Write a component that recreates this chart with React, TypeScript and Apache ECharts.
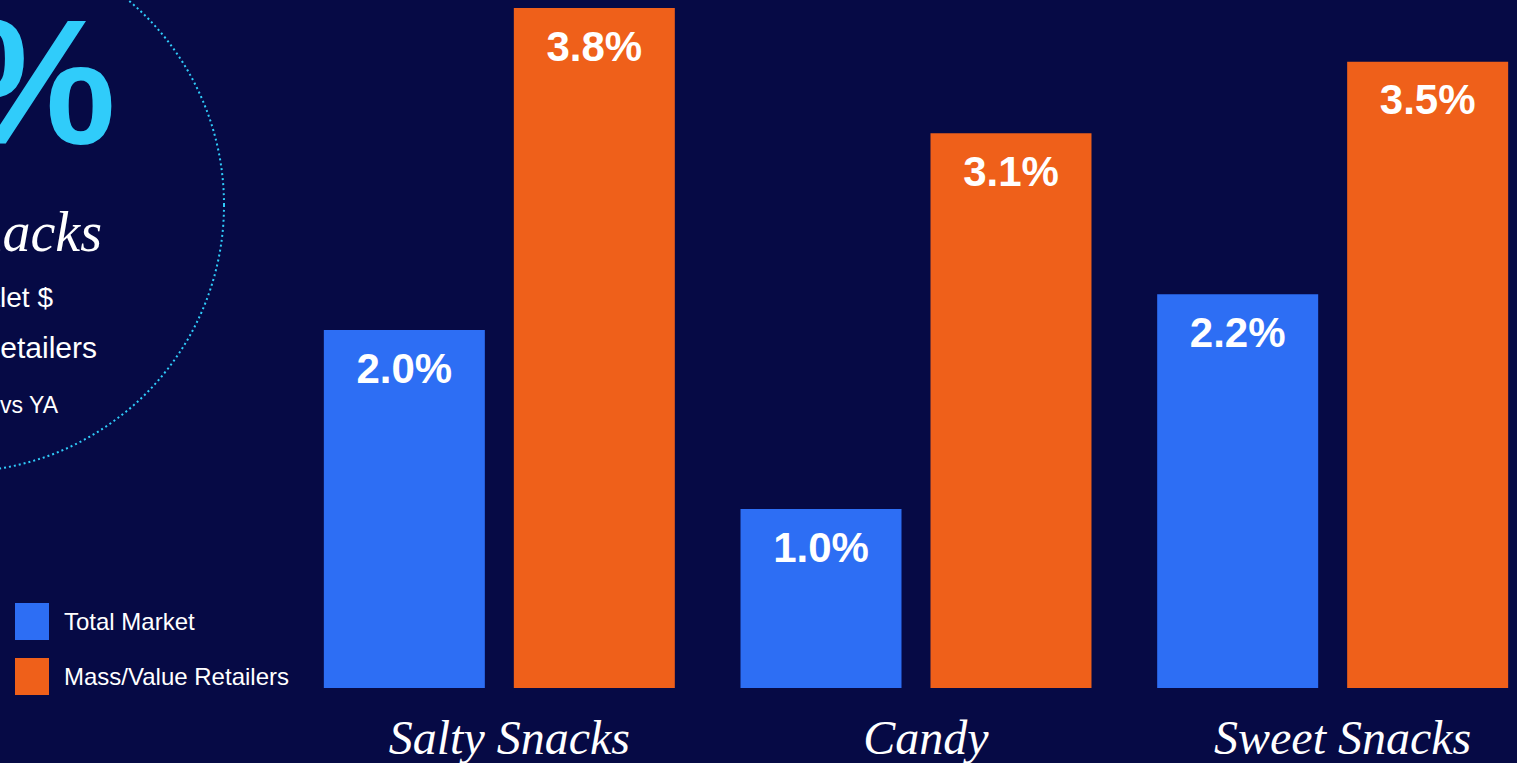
import React, { useEffect, useRef } from "react";
import * as echarts from "echarts";

const categories = ["Salty Snacks", "Candy", "Sweet Snacks"];
const totalMarket = [2.0, 1.0, 2.2];
const massValue = [3.8, 3.1, 3.5];
const seriesNames = ["Total Market", "Mass/Value Retailers"];

const BG = "#060A45";
const BLUE = "#2D6EF4";
const ORANGE = "#EF601A";
const CYAN = "#30CCFA";

export default function App() {
  const ref = useRef<HTMLDivElement>(null);
  useEffect(() => {
    if (!ref.current) return;
    const chart = echarts.init(ref.current, undefined, { renderer: "svg" });
    const labelCfg = {
      show: true,
      position: "insideTop",
      distance: 17,
      color: "#FFFFFF",
      fontFamily: "Liberation Sans, Arial, sans-serif",
      fontWeight: "bold",
      fontSize: 42,
      formatter: (p: any) => Number(p.value).toFixed(1) + "%",
    };
    chart.setOption({
      animation: false,
      backgroundColor: BG,
      grid: { left: 291, width: 1250, top: 8, bottom: 75, containLabel: false },
      legend: {
        orient: "vertical",
        left: 15,
        top: 603,
        padding: 0,
        itemWidth: 34,
        itemHeight: 37,
        itemGap: 18,
        icon: "rect",
        selectedMode: false,
        data: seriesNames,
        textStyle: {
          color: "#FFFFFF",
          fontSize: 24,
          fontFamily: "Liberation Sans, Arial, sans-serif",
          padding: [6, 0, 0, 10],
        },
      },
      xAxis: {
        type: "category",
        data: categories,
        axisLine: { show: false },
        axisTick: { show: false },
        axisLabel: {
          color: "#FFFFFF",
          fontFamily: "Liberation Serif, serif",
          fontStyle: "italic",
          fontSize: 48,
          margin: 25,
          padding: [0, 0, 0, 20],
          interval: 0,
        },
      },
      yAxis: {
        type: "value",
        min: 0,
        max: 3.8,
        show: false,
        splitLine: { show: false },
      },
      graphic: [
        {
          type: "circle",
          shape: { cx: -43, cy: 205, r: 267 },
          style: { fill: "none", stroke: CYAN, lineWidth: 2, lineDash: [2, 3] },
          silent: true,
        },
        {
          type: "text",
          x: 116,
          y: 82,
          style: {
            text: "%",
            fill: CYAN,
            font: "bold 178px 'Liberation Sans', Arial, sans-serif",
            textAlign: "right",
            textVerticalAlign: "middle",
          },
        },
        {
          type: "text",
          x: 102,
          y: 232,
          style: {
            text: "Snacks",
            fill: "#FFFFFF",
            font: "italic 56px 'Liberation Serif', serif",
            textAlign: "right",
            textVerticalAlign: "middle",
          },
        },
        {
          type: "text",
          x: 53,
          y: 297,
          style: {
            text: "Outlet $",
            fill: "#FFFFFF",
            font: "28px 'Liberation Sans', Arial, sans-serif",
            textAlign: "right",
            textVerticalAlign: "middle",
          },
        },
        {
          type: "text",
          x: 97,
          y: 347,
          style: {
            text: "Retailers",
            fill: "#FFFFFF",
            font: "30px 'Liberation Sans', Arial, sans-serif",
            textAlign: "right",
            textVerticalAlign: "middle",
          },
        },
        {
          type: "text",
          x: 58,
          y: 405,
          style: {
            text: "vs YA",
            fill: "#FFFFFF",
            font: "23px 'Liberation Sans', Arial, sans-serif",
            textAlign: "right",
            textVerticalAlign: "middle",
          },
        },
      ],
      series: [
        {
          name: seriesNames[0],
          type: "bar",
          data: totalMarket,
          barWidth: 161,
          barGap: "18%",
          itemStyle: { color: BLUE },
          label: labelCfg,
        },
        {
          name: seriesNames[1],
          type: "bar",
          data: massValue,
          barWidth: 161,
          barGap: "18%",
          itemStyle: { color: ORANGE },
          label: labelCfg,
        },
      ],
    });
    return () => chart.dispose();
  }, []);
  return (
    <div
      ref={ref}
      style={{ position: "fixed", left: 0, top: 0, width: 1560, height: 763, background: BG }}
    />
  );
}
